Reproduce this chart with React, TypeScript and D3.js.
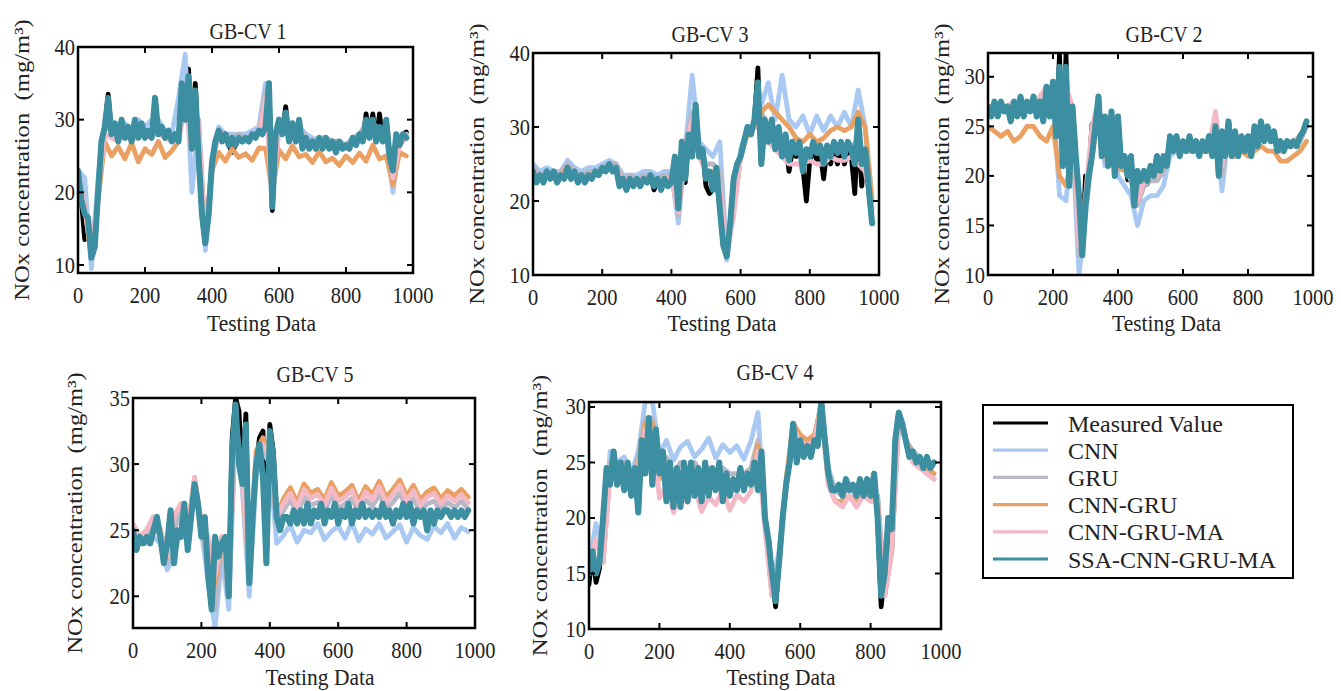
import React from 'react';
import * as d3 from 'd3';

// ---------- series meta ----------
const seriesNames = ['Measured Value', 'CNN', 'GRU', 'CNN-GRU', 'CNN-GRU-MA', 'SSA-CNN-GRU-MA'];
const seriesColors = ['#000000', '#a9c9f2', '#b8b8c6', '#e9a062', '#f3b9c7', '#3b8fa0'];
const xTickValues = [0, 200, 400, 600, 800, 1000];
const xEnd = 980;

// ---------- GB-CV 1 ----------
const p1Measured = [23,19,13.5,16.5,11,12.5,20,27,29,33.5,
28,29.5,27,30,27.5,29,27,30,27.5,29.5,
27.5,28.5,27.5,33,28,29,27.5,28.5,27,28,
27,35,30,37,26,35,25,17,12.8,17,
24,27,28.5,27,28,26.5,25.5,26.5,27.5,27,
27.5,27,28,27.5,28.5,28,29,35,17.5,28,
30,28,31.8,27,29.5,27,30,26,27.5,26,
27,26,27.5,26,27.5,26,27,25.5,27,26,
26.5,26,27.5,26.5,28,27,30.8,27.5,30.8,27,
30.8,27,30,25,23,28,26.5,28,28.3];
const p1CNN = [23,22,9.5,22,30,29,28,29.5,28.5,30, 29,30,30,28.5,28,33,39,20,30,12, 25,29,28,28,28,28,28.5,29,35,19, 29,30,29,29,28,27.5,27,27.5,27,26.5, 26.5,27,27.5,29,29.5,28,28,20,27,28];
const p1GRU = [23,18,11,20,29,28.5,27.5,28.5,27.5,28.5, 28,28.5,28.5,28.5,27.5,28,33,26,30,13.5, 24,28.5,28,27.5,28,27.5,28,28.5,34,19, 29.5,30,29,29,27.5,27,27.5,27.5,27,27, 26.5,27.5,28,29.5,29.5,28.5,29,22,27,28];
const p1CNNGRU = [22,18,11,19,27,25,26.3,24.6,26.8,24.2, 26,25.2,27,24.8,25.7,27,33,26,28,14, 23,25.5,24.3,26,24.8,25.3,24.4,26.1,26,20, 25.8,24.6,26.4,24.9,25.2,24.1,25.6,24.2,24.7,23.7, 25,24.1,25.4,24.3,26.5,24.6,25,21,25.5,25];
const p1CNNGRUMA = [22.5,18,12,20,28,27.5,27,28,27,28, 27.5,28,28,27.5,27,27,32,26,29,13.5, 24,28,27.5,27,27.5,27,27.5,28,33,19, 29,30,28.5,28.5,27,26.5,27,27,26.5,26.5, 26,27,27.5,29,29,28,28.5,22,26.5,27.5];
const p1SSA = [23,19,17,16.5,11,12.5,20,27,29,33,
28,29.5,27,30,27.5,29,27,30,27.5,29.5,
27.5,28.5,27.5,33,28,29,27.5,28.5,27,28,
27,35,30,36,26,34,25,17,13,17,
24,27,28.5,27,28,26.5,27.5,26.5,27.5,27,
27.5,27,28,27.5,28.5,28,29,35,18,28,
30,28,31,27,29.5,27,30,26,27.5,26,
27,26,27.5,26,27.5,26,27,25.5,27,26,
26.5,26,27.5,26.5,28,27,30,27.5,30,27,
29,27,30,25,23,28,26.5,28,27.5];

// ---------- GB-CV 3 ----------
const p2Measured = [24,22.5,23.5,22.5,24,23,24,22.5,23.5,23,
24.5,23,24,22.5,23.5,22.5,23.5,23,24,23.5,
24.5,24,25,24,24.5,22,23,21.5,23,22,
23,22,23,22.5,23.5,21.5,23,21.5,23,22,
22.5,26,18.3,28,22.5,29,26,33,26,27,
22,21,21.5,24.5,19,14,12.5,17,23,25,
26,28,30,29,31,38,25,31,28,31,
27,29,26,28,24,27,26,27,24.5,20,
25.5,27,25.5,26.5,23,27,25,27,25,27,
25,27,26,21,30,22,26,21.5,17];
const p2CNN = [25,24,24.5,24,24,25.5,24.5,24,24.5,24.5,
25,25.5,25,23.5,23.5,23.5,24,24,23.5,24,
24,17,27,37,28,27,26,28,12,20,
27,30,30,33,36,31,37,31,30,31.5,
29,31.5,29.5,31.5,30,32,30,35,30,20];
const p2GRU = [24.5,23.5,24,23.5,24,25,24,23.5,24,24,
24.5,25,25,23,23.5,23,23.5,23.5,23,23.5,
23.5,18,28,32,27,25,25,24,13,19,
26,29.5,30,32,30,29,28,27,27,26.5,
27,26.5,26.5,27,27,27,27.5,28,26,19];
const p2CNNGRU = [24,23,23.5,23,23.5,24.5,23.5,23,23.5,23.5,
24,24.5,24.5,22.5,23,22.5,23,23,22.5,23,
23,19,27,30,27,24,24,20,13,19,
26,29,30,32,33,32,31,30,28.5,28,
29,28,28.5,29.5,30,29.5,30,32,30,20];
const p2CNNGRUMA = [24,23,23.5,23,23.5,24,23.5,23,23.5,23.5,
24,24.5,24.5,22.5,23,22.5,23,23,22.5,23,
23,18.5,27,31,26,24,23,22,13,18,
26,29.5,30,30,28,27,26,25,25,25,
25.5,25,25,26,25.5,25.5,26,25,24,19];
const p2SSA = [24,22.5,23.5,22.5,24,23,24,22.5,23.5,23,
24.5,23,24,22.5,23.5,22.5,23.5,23,24,23.5,
24.5,24,25,24,24.5,22,23,21.5,23,22,
23,22,23,22.5,23.5,22,23,21.5,23,22,
22.5,26,19,28,23,29,26,33,26,27,
23,24,21.5,24.5,19,14,12.5,17,23,25,
26,28,30,29,31,36,25,31,28,31,
27,30,26,29,25.5,28,26.5,28,24,27,
26,28,26.5,27.5,25,27.5,26,28,26.5,28,
26,28,27,25,31,25,27,22,17];

// ---------- GB-CV 2 ----------
const p3Measured = [27,26,27.5,26,27.5,26.5,27,25.5,27.5,26,
28,26,27.5,26.5,28,26,27.5,25.5,29,26,
29.5,24,32.3,21,32.3,19,27,22,18,12,
20,20,25.2,25,28,22,26,21,26.5,20,
26,21,22,19.6,22,17,20.5,19.5,19,19.2,
21,20,22,20.5,20.2,21,24,22.5,24,22,
23.5,22.5,24,22.5,23.5,22,23.5,22.5,24,22,
25,20,24.5,22,25.5,22,24.5,22,24,22.5,
24,22,25,23,25.5,23.5,25,23.5,24.5,22.5,
23.5,22.5,23.5,23,23.5,23,24,24.5,25];
const p3CNN = [27,27,27,27,27,27.5,27,27.5,27,28,
28,18,17.5,24,10,16,22,27,21,25,
20,19,18,15,17.5,18,18,19,22,22.5,
22.5,23,23,22.5,22.5,25,18.5,24.5,22,23,
22.5,24,24,24,23.5,22.5,23,23,23.5,25];
const p3GRU = [27,27,27,26.5,27,27,27,27.5,27.5,28.5,
28.5,25,22,25,12,17,23,27,21.5,25.5,
20.5,21,19.5,17,19,19.5,19.5,20.5,22.5,23,
23,23,23,23,23,25,20,24.5,22,23,
22.5,24,24.5,24,23.5,22.5,23,23,23.5,25];
const p3CNNGRU = [25,24.5,24,24.5,23.5,24,25,25,24,23.5,
25,20,19,22,16,17,22,26,22,23,
21,20.5,20,18.5,19.5,20,20,21,22.5,23,
22.5,22.5,22.5,22.5,22.5,23,21.5,23,22,22.5,
22,22.5,23,22.5,22.5,21.5,21.5,22,22.5,23.5];
const p3CNNGRUMA = [27,27,27,27,27.5,27,27.5,27,28,29,
29,30,29,27,13,18,25,27.5,22,26.5,
21,22,20,17.5,19.5,20,20,21,23,23,
23,23.5,23,23,23,26.5,21,25,22.5,23.5,
23,24.5,25,24.5,24,23,23.5,23.5,24,25];
const p3SSA = [27,26,27.5,26,27.5,26.5,27,25.5,27.5,26,
28,26,27.5,26.5,28,26,27.5,25.5,29,26,
29.5,24,31,21,31,19,27,22,18,12,
17,20,22,25,28,22,26,21,26.5,20,
26,21,22,20,22,17,20.5,19.5,20.5,19.5,
21,20,22,20.5,22,21,24,22.5,24,22,
23.5,22.5,24,22.5,23.5,22,23.5,22.5,24,22,
25,20,24.5,22,25.5,22,24.5,22,24,22.5,
24,22,25,23,25.5,23.5,25,23.5,24.5,22.5,
23.5,22.5,23.5,23,23.5,23,24,24.5,25.5];

// ---------- GB-CV 5 ----------
const p4Measured = [25,23.5,24.5,24,24.5,24,25,26,24.5,22.5,
24,26.5,22.5,25,24.5,27,23.5,26,28.5,27,
24.5,26,21.3,19,24.5,23,24,24.5,20,32,
35,34,28.5,33.8,21,26,30,32,32.5,22.5,
33,31,26,25,26,26,25.5,26.5,25.5,26.5,
25.5,27,25.5,26.5,26,27,25.5,26.5,26,27,
25.5,26.5,26,27,25.5,26.5,26,27,26,26.5,
26,26.5,26,27,26,26.5,25.5,26.5,26,27,
26,27,25.5,26.5,26,26.5,25,26.5,25.5,26.5,
26,26.5,26.5,26,26.5,26,26.5,26,26.5];
const p4CNN = [24,24,24,24.5,24,22,23,25,24,28, 25,21,17.6,23,19,33,28,20,29,31, 30,24,24.6,25.4,24.1,25,24.8,25.5,24.3,24.9, 25.3,24.4,25.6,24.2,25.1,24.7,25.5,24.4,24.9,25.4, 24.1,25.2,24.6,24.3,25.3,24.8,25.5,24.4,25.2,24.9];
const p4GRU = [24.5,24,24.5,25.5,24.5,22.5,25,26.5,24.5,28.5, 25,22,19,24,20,33.5,28.5,21,30,31, 30.5,25.5,26.5,27.3,26.2,27.5,26.9,27.1,26.4,27.6, 26.7,27,27.4,26.3,27.3,26.8,27.7,26.6,27.1,27.8, 26.7,27.4,26.4,27,27.2,26.5,27.1,26.7,27.2,26.6];
const p4CNNGRU = [25,24.5,25,26,25,23,26,27,25,29, 25.5,24,21,24.5,21,33.5,29,22,31,32, 31,26,27.4,28.2,27.1,28.5,27.8,28.1,27.3,28.6, 27.6,27.9,28.4,27.2,28.3,27.7,28.7,27.5,28.1,28.8, 27.6,28.4,27.3,27.9,28.2,27.4,28,27.6,28.1,27.5];
const p4CNNGRUMA = [25.5,24.5,25,26,25,23,26,27,25,29, 25.5,24.5,21.5,24.5,21,33,28.5,22,30.5,31.5, 30.5,26,27,27.8,26.7,28.1,27.4,27.7,26.9,28.2, 27.2,27.5,28,26.8,27.9,27.3,28.3,27.1,27.7,28.4, 27.2,28,26.9,27.5,27.8,27,27.6,27.2,27.7,27.1];
const p4SSA = [25,23.5,24.5,24,24.5,24,25,26,24.5,22.5,
24,26.5,22.5,25,24.5,27,23.5,26,28.5,27,
24.5,26,21.5,19,24.5,23,24,24.5,20,31,
34.5,30,28.5,33,21,26,30,31.5,29,22.5,
32.5,30.5,26,25,26,26,25.5,26.5,25.5,26.5,
25.5,27,25.5,26.5,26,27,25.5,26.5,26,27,
25.5,26.5,26,27,25.5,26.5,26,27,26,26.5,
26,26.5,26,27,26,26.5,25.5,26.5,26,27,
26,27,25.5,26.5,26,26.5,25,26.5,25.5,26.5,
26,26.5,26.5,26,26.5,26,26.5,26,26.5];

// ---------- GB-CV 4 ----------
const p5Measured = [14,17,14.2,15.5,20,24.5,23,26,23,25,
22.5,25,22,24.5,20.5,27,24,29,23,28,
24,26,21.5,25,21,24.5,21,25,21.5,25,
22,24.5,21.5,25,22,24.5,22.5,25,21.5,24,
22,23.5,22.5,24.5,22.5,24,23,25,22.5,26,
20,18,15,12,16,20,23,25,28.5,25,
27,25.5,26.5,25.5,27,26.5,30.5,27,24,22.5,
22.5,23,22,23.5,22.5,23,22,23.5,22,23.5,
22,24,20,12,15,20,17.5,27,29.5,28.5,
27,25.5,26,25,25.5,24.5,25.5,24.5,25];
const p5CNN = [16,19.5,17,26,25,25.5,24,26,30.5,30.5, 25.8,27,25.2,26.4,26.9,25.5,26.2,27.2,25.4,26.6, 25.9,26.5,25.3,26.9,29.5,20,14,17,23,28.5, 27,26.5,27,30.5,24.5,22.5,22,23,22,23, 22.5,22,14,17,28.5,27,26,25.5,24,23.5];
const p5GRU = [15.5,18,16,25,24.5,25,23,25.5,29,29, 24.5,25.5,24,25,24.5,25,24,24.5,24,24.5, 24,24,24,24.5,27,19.5,13,16.5,23,28.5, 27,26,27,30.5,24,22.5,22,23,22,23, 22.5,22,13,17,29,27,26,25,24.5,24];
const p5CNNGRU = [15.5,18,16,24.5,24,24.5,22.5,25,28.5,28.5, 23.5,24.5,22.5,24,23,24,23,23.5,23,23.5, 23,23,23,23.5,26.5,20,13,16,23.5,28.5, 27.5,27,27.5,30,23,21.5,21.5,22,21.5,22, 22,21.5,13,17,29.5,27,25.5,25,24.5,24];
const p5CNNGRUMA = [16,18,16,24,23.5,24,22,24.5,28,28, 21.8,23,20.5,22.2,21.4,22.8,20.6,21.9,21.2,22.6, 20.7,22.1,21.5,22.4,26,19,13,16,23,28, 27,26.5,27,30,23,21.5,21,22,21,22, 21.5,21.5,13,17,29,27,25,24.5,24,23.5];
const p5SSA = [15,17,15,16,20,24.5,23,26,23,25,
22.5,25,22,24.5,20.5,27,24,29,23,28,
24,26,21.5,25,21,24.5,21,25,21.5,25,
22,24.5,21.5,25,22,24.5,22.5,25,21.5,24,
22,23.5,22.5,24.5,22.5,24,23,25,22.5,26,
20,18,15,12.5,16,20,23,25,28.5,25,
27,25.5,26.5,25.5,27,26.5,30.5,27,24,22.5,
22.5,23,22,23.5,22.5,23,22,23.5,22,23.5,
22,24,20,13,15,20,19,27,29.5,28.5,
27,25.5,26,25,25.5,24.5,25.5,24.5,25];

// ---------- panel titles and axis ticks ----------
const panelTitles = ['GB-CV 1', 'GB-CV 3', 'GB-CV 2', 'GB-CV 5', 'GB-CV 4'];
const yDomains: [number, number][] = [[8.9, 40], [10, 40], [10, 32.4], [17.6, 35], [10, 30.45]];
const yTickLists = [[10, 20, 30, 40], [10, 20, 30, 40], [10, 15, 20, 25, 30], [20, 25, 30, 35], [10, 15, 20, 25, 30]];
const panelData = [
  [p1Measured, p1CNN, p1GRU, p1CNNGRU, p1CNNGRUMA, p1SSA],
  [p2Measured, p2CNN, p2GRU, p2CNNGRU, p2CNNGRUMA, p2SSA],
  [p3Measured, p3CNN, p3GRU, p3CNNGRU, p3CNNGRUMA, p3SSA],
  [p4Measured, p4CNN, p4GRU, p4CNNGRU, p4CNNGRUMA, p4SSA],
  [p5Measured, p5CNN, p5GRU, p5CNNGRU, p5CNNGRUMA, p5SSA],
];

// ---------- layout ----------
const layout = [
  { l: 78, r: 413, t: 47, b: 273, titleX: 248, titleY: 39, yLabX: 29, xLabY: 331 },
  { l: 533, r: 879, t: 53, b: 275, titleX: 710, titleY: 42, yLabX: 484, xLabY: 331 },
  { l: 988, r: 1313, t: 53, b: 275, titleX: 1164, titleY: 42, yLabX: 949, xLabY: 331 },
  { l: 133, r: 475, t: 398, b: 628, titleX: 315, titleY: 382, yLabX: 82, xLabY: 685 },
  { l: 589, r: 941, t: 402, b: 629, titleX: 775, titleY: 380, yLabX: 547, xLabY: 685 },
];
const FONT = '"Liberation Serif", "Times New Roman", Times, serif';
const STRETCH = 1.12;
const seriesWidths = [4.8, 4.8, 4.8, 4.8, 4.8, 6];

function Panel({ idx }: { idx: number }) {
  const L = layout[idx];
  const x = d3.scaleLinear().domain([0, 1000]).range([L.l, L.r]);
  const y = d3.scaleLinear().domain(yDomains[idx]).range([L.b, L.t]);
  const clipId = `clip-${idx}`;
  const mkLine = (arr: number[]) => {
    const step = xEnd / (arr.length - 1);
    return d3.line<number>().x((_, i) => x(i * step)).y((d) => y(d))(arr) || '';
  };
  const tickLen = 6;
  return (
    <g>
      <defs>
        <clipPath id={clipId}>
          <rect x={L.l} y={L.t} width={L.r - L.l} height={L.b - L.t} />
        </clipPath>
      </defs>
      <g clipPath={`url(#${clipId})`}>
        {panelData[idx].map((arr, si) => (
          <path key={si} d={mkLine(arr)} fill="none" stroke={seriesColors[si]}
            strokeWidth={seriesWidths[si]} strokeLinejoin="round" strokeLinecap="round" />
        ))}
      </g>
      {xTickValues.map((v) => (
        <g key={'xt' + v}>
          <line x1={x(v)} x2={x(v)} y1={L.b} y2={L.b - tickLen} stroke="#000" strokeWidth={2} />
          <line x1={x(v)} x2={x(v)} y1={L.t} y2={L.t + tickLen} stroke="#000" strokeWidth={2} />
          <text transform={`translate(${x(v)},${L.b + 30}) scale(1,${STRETCH})`} textAnchor="middle"
            fontFamily={FONT} fontSize={20.5} fill="#222">{v}</text>
        </g>
      ))}
      {yTickLists[idx].map((v) => (
        <g key={'yt' + v}>
          <line x1={L.l} x2={L.l + tickLen} y1={y(v)} y2={y(v)} stroke="#000" strokeWidth={2} />
          <line x1={L.r} x2={L.r - tickLen} y1={y(v)} y2={y(v)} stroke="#000" strokeWidth={2} />
          <text transform={`translate(${L.l - 3},${y(v) + 7.5}) scale(1,${STRETCH})`} textAnchor="end"
            fontFamily={FONT} fontSize={20.5} fill="#222">{v}</text>
        </g>
      ))}
      <rect x={L.l} y={L.t} width={L.r - L.l} height={L.b - L.t} fill="none" stroke="#000" strokeWidth={2.5} />
      <text transform={`translate(${L.titleX},${L.titleY}) scale(1,${STRETCH})`} textAnchor="middle"
        fontFamily={FONT} fontSize={20} fill="#222">{panelTitles[idx]}</text>
      <text transform={`translate(${(L.l + L.r) / 2 + 16},${L.xLabY}) scale(1,${STRETCH})`} textAnchor="middle"
        fontFamily={FONT} fontSize={21.5} fill="#222">Testing Data</text>
      <text transform={`translate(${L.yLabX},${(L.t + L.b) / 2}) rotate(-90) scale(${STRETCH},1)`} textAnchor="middle"
        fontFamily={FONT} fontSize={22} fill="#222">{'NOx concentration\u00a0\u00a0(mg/m³)'}</text>
    </g>
  );
}

const legendBox = { l: 983, t: 405, r: 1293, b: 578, row0: 423, rowGap: 27.2, lineX1: 993, lineX2: 1048, textX: 1068 };

function Legend() {
  const B = legendBox;
  return (
    <g>
      <rect x={B.l} y={B.t} width={B.r - B.l} height={B.b - B.t} fill="#fff" stroke="#000" strokeWidth={2} />
      {seriesNames.map((n, i) => {
        const yy = B.row0 + i * B.rowGap;
        return (
          <g key={n}>
            <line x1={B.lineX1} x2={B.lineX2} y1={yy} y2={yy} stroke={seriesColors[i]} strokeWidth={3.2} />
            <text x={B.textX} y={yy + 8.5} fontFamily={FONT} fontSize={24} fill="#222">{n}</text>
          </g>
        );
      })}
    </g>
  );
}

export default function App() {
  return (
    <svg width={1341} height={691} style={{ position: 'absolute', left: 0, top: 0, background: '#fff' }}>
      <rect x={0} y={0} width={1341} height={691} fill="#fff" />
      {layout.map((_, i) => <Panel key={i} idx={i} />)}
      <Legend />
    </svg>
  );
}
